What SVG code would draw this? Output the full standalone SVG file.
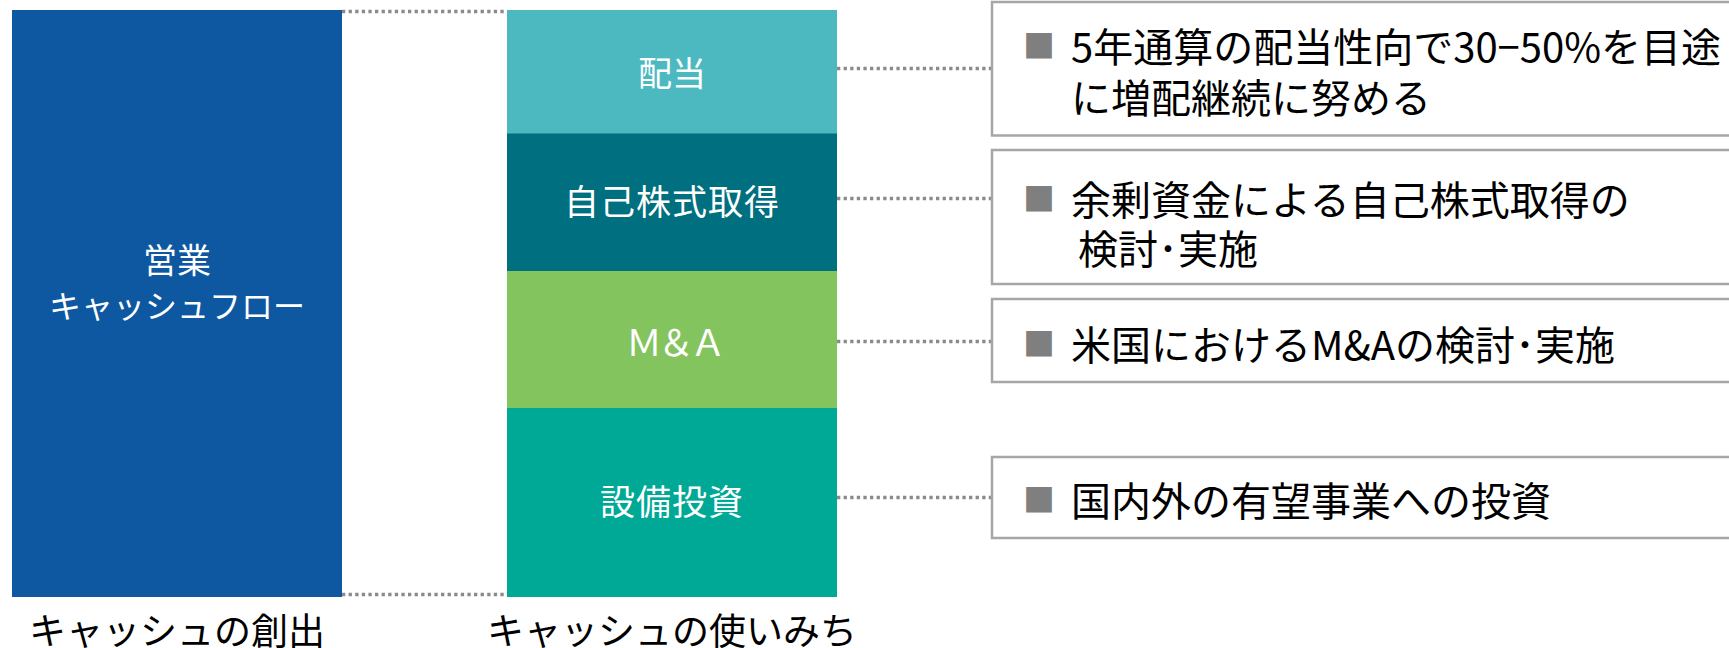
<svg xmlns="http://www.w3.org/2000/svg" width="1729" height="648" viewBox="0 0 1729 648">
<style>
.lbl{font-family:"Noto Sans CJK JP","Noto Sans",sans-serif;fill:#ffffff;text-anchor:middle}
.cap{font-family:"Noto Sans CJK JP","Noto Sans",sans-serif;fill:#000000;font-size:37px;text-anchor:middle}
.txt{font-family:"Noto Sans CJK JP","Noto Sans",sans-serif;fill:#000000;font-size:40px}
.bul{font-family:"Noto Sans CJK JP","Noto Sans",sans-serif;fill:#7f7f7f;font-size:32px}
.box{fill:#ffffff;stroke:#a6a6a6;stroke-width:2.5}
.dot{stroke:#8a8a8a;stroke-width:3.3;stroke-dasharray:3.3 3.3;fill:none}
</style>
<rect width="1729" height="648" fill="#ffffff"/>
<g id="connectors">
<line class="dot" x1="342" y1="11.5" x2="507" y2="11.5"/>
<line class="dot" x1="342" y1="594.5" x2="507" y2="594.5"/>
<line class="dot" x1="837" y1="68.5" x2="992" y2="68.5"/>
<line class="dot" x1="837" y1="198.5" x2="992" y2="198.5"/>
<line class="dot" x1="837" y1="341.5" x2="992" y2="341.5"/>
<line class="dot" x1="837" y1="497.5" x2="992" y2="497.5"/>
</g>
<g id="operating-cf">
<rect x="12" y="10" width="330" height="587" fill="#0e58a2"/>
<text class="lbl" x="177" y="273" font-size="34">営業</text>
<text class="lbl" x="177" y="318" font-size="32">キャッシュフロー</text>
</g>
<g id="dividend">
<rect x="507" y="10" width="330" height="124" fill="#4cb9c1"/>
<text class="lbl" x="672" y="86" font-size="34">配当</text>
</g>
<g id="buyback">
<rect x="507" y="133.5" width="330" height="138" fill="#006f7f"/>
<text class="lbl" x="672" y="215" font-size="35" letter-spacing="1">自己株式取得</text>
</g>
<g id="ma">
<rect x="507" y="271" width="330" height="137.5" fill="#84c45e"/>
<text class="lbl" x="674" y="356" font-size="36" letter-spacing="-4">Ｍ＆Ａ</text>
</g>
<g id="capex">
<rect x="507" y="408" width="330" height="189" fill="#00a896"/>
<text class="lbl" x="672" y="515" font-size="35" letter-spacing="1">設備投資</text>
</g>
<g id="caption-creation">
<text class="cap" x="177" y="645">キャッシュの創出</text>
</g>
<g id="caption-use">
<text class="cap" x="672" y="645">キャッシュの使いみち</text>
</g>
<g id="box-dividend">
<rect class="box" x="992" y="2" width="760" height="133.5"/>
<text class="bul" x="1023" y="58">■</text>
<text class="txt" x="1071" y="62">5年通算の配当性向で30−50%を目途</text>
<text class="txt" x="1071" y="113">に増配継続に努める</text>
</g>
<g id="box-buyback">
<rect class="box" x="992" y="150" width="760" height="134"/>
<text class="bul" x="1023" y="211">■</text>
<text class="txt" x="1071" y="215">余剰資金による自己株式取得の</text>
<text class="txt" x="1078" y="264">検討･実施</text>
</g>
<g id="box-ma">
<rect class="box" x="992" y="299" width="760" height="83"/>
<text class="bul" x="1023" y="356">■</text>
<text class="txt" x="1071" y="360">米国におけるM&amp;Aの検討･実施</text>
</g>
<g id="box-capex">
<rect class="box" x="992" y="457" width="760" height="81"/>
<text class="bul" x="1023" y="512">■</text>
<text class="txt" x="1071" y="516">国内外の有望事業への投資</text>
</g>
</svg>
